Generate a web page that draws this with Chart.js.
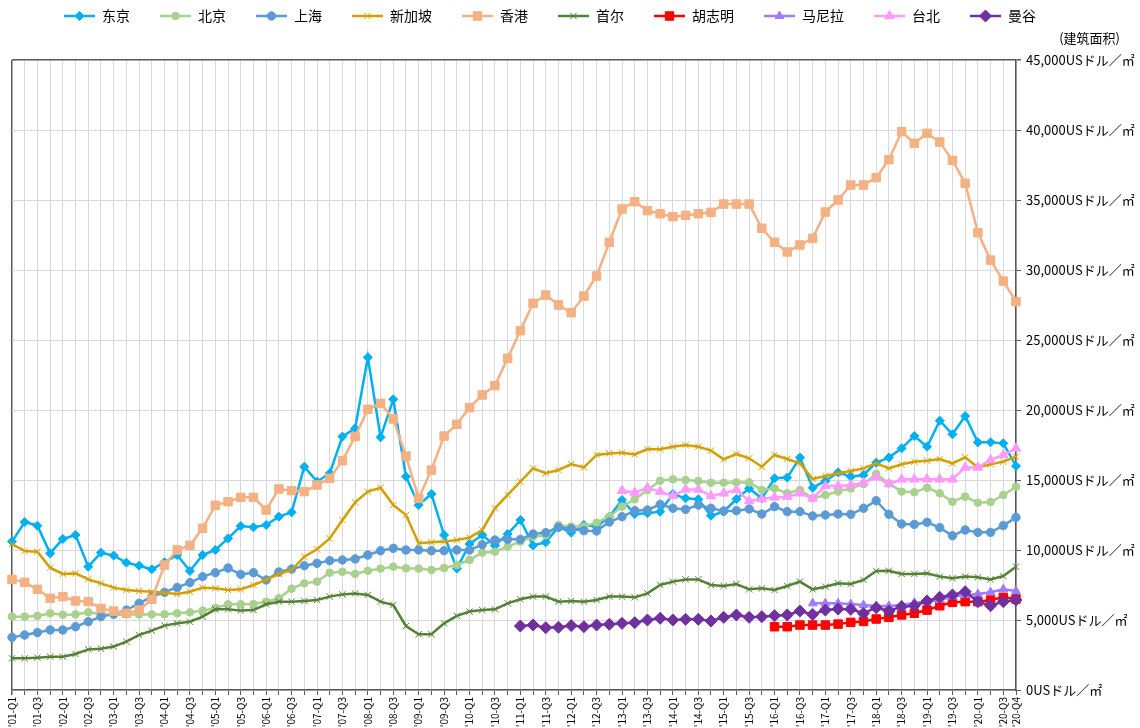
<!DOCTYPE html>
<html>
<head>
<meta charset="utf-8">
<script src="https://cdn.jsdelivr.net/npm/chart.js@4.4.1/dist/chart.umd.min.js"></script>
<style>
html,body{margin:0;padding:0;background:#fff;}
#wrap{width:1140px;height:728px;position:relative;}
</style>
</head>
<body>
<div id="wrap"><canvas id="c" width="1140" height="728"></canvas></div>
<script>
// ---------- categories ----------
const quarters = [];
for (let y = 1; y <= 20; y++) for (let q = 1; q <= 4; q++) quarters.push("'" + String(y).padStart(2, '0') + '-Q' + q);

// ---------- series names ----------
const seriesNames = ['东京', '北京', '上海', '新加坡', '香港', '首尔', '胡志明', '马尼拉', '台北', '曼谷'];
const unitLabel = '(建筑面积)';
const yTickSuffix = 'USドル／㎡';
const yTickValues = [0, 5000, 10000, 15000, 20000, 25000, 30000, 35000, 40000, 45000];

// ---------- values (USD per m2, quarterly '01-Q1 .. '20-Q4) ----------
const tokyo = [10600, 12000, 11740, 9760, 10790, 11070, 8810, 9810, 9600, 9100, 8880, 8620, 9120, 9640, 8500, 9640, 10000, 10830, 11710, 11620, 11790, 12380, 12690, 15950, 14880, 15480, 18100,
  18690, 23760, 18050, 20760, 15240, 13210, 14000, 11070, 8670, 10430, 11070, 10330, 11140, 12140, 10330, 10550, 11670, 11240, 11790, 11670, 12380, 13570, 12570, 12620, 12740, 14000,
  13690, 13620, 12450, 12740, 13640, 14400, 13690, 15120, 15170, 16600, 14450, 14930, 15550, 15240, 15360, 16240, 16600, 17260, 18140, 17380, 19240, 18260, 19570, 17690, 17690, 17620, 16000];
const beijing = [5240, 5240, 5290, 5480, 5380, 5400, 5550, 5430, 5360, 5400, 5400, 5400, 5400, 5480, 5550, 5670, 5860, 6120, 6120, 6140, 6310, 6550, 7240, 7620, 7740, 8380, 8450,
  8290, 8520, 8670, 8810, 8690, 8670, 8570, 8710, 8930, 9290, 9810, 9880, 10240, 10600, 10950, 11050, 11790, 11670, 11670, 11950, 12380, 13100, 13620, 14290, 14950, 15050,
  15000, 14930, 14810, 14810, 14830, 14830, 14290, 14400, 14050, 14290, 13690, 13930, 14170, 14400, 14710, 15430, 14760, 14170, 14120, 14450, 14050, 13450, 13810, 13380, 13430, 13930, 14520];
const shanghai = [3760, 3930, 4100, 4290, 4290, 4520, 4880, 5240, 5430, 5710, 6190, 6670, 6980, 7330, 7670, 8100, 8380, 8710, 8260, 8380, 7860, 8430, 8640, 8880, 9050, 9240, 9290,
  9360, 9640, 9950, 10120, 10000, 10000, 9950, 9950, 10000, 10000, 10380, 10710, 10760, 10760, 11140, 11240, 11620, 11520, 11380, 11360, 12000, 12380, 12810, 12860, 13260, 12980,
  12900, 13210, 12980, 12790, 12810, 12930, 12570, 13100, 12740, 12740, 12430, 12500, 12570, 12550, 12980, 13520, 12550, 11860, 11830, 11980, 11600, 11020, 11430, 11260, 11260, 11740, 12330];
const singapore = [10430, 9930, 9880, 8740, 8290, 8330, 7910, 7620, 7310, 7140, 7070, 7020, 6950, 6860, 7020, 7310, 7260, 7140, 7190, 7500, 7860, 8290, 8570, 9520, 10050, 10830, 12140,
  13400, 14170, 14450, 13210, 12500, 10480, 10550, 10600, 10710, 10880, 11430, 12980, 13930, 14880, 15830, 15480, 15710, 16140, 15900, 16790, 16900, 16950, 16830, 17210, 17190, 17380,
  17500, 17380, 17100, 16480, 16860, 16550, 15950, 16790, 16500, 16190, 15070, 15290, 15480, 15640, 15830, 16190, 15830, 16120, 16310, 16380, 16500, 16190, 16620, 15900, 16120, 16310, 16670];
const hongkong = [7900, 7690, 7190, 6550, 6670, 6360, 6310, 5830, 5640, 5480, 5710, 6480, 8930, 10000, 10330, 11550, 13190, 13450, 13760, 13760, 12860, 14360, 14240, 14170, 14640, 15120, 16380,
  18100, 20050, 20480, 19360, 16710, 13690, 15710, 18140, 18980, 20170, 21070, 21740, 23690,
  25670, 27620, 28210, 27500, 26950, 28140, 29570, 31980, 34360, 34880, 34240, 34020, 33810, 33900, 34020, 34120, 34710, 34710, 34710, 32980, 31980,
  31290, 31790, 32260, 34140, 35000, 36070, 36070, 36600, 37880, 39880, 39050, 39760, 39140, 37830, 36190, 32670, 30710, 29210, 27740];
const seoul = [2260, 2260, 2310, 2380, 2380, 2570, 2900, 2950, 3100, 3450, 3930, 4240, 4600, 4760, 4880, 5240, 5760, 5760, 5670, 5710, 6120, 6310, 6310, 6360, 6430, 6670, 6830,
  6900, 6790, 6310, 6070, 4570, 3980, 3980, 4760, 5290, 5600, 5710, 5760, 6190, 6480, 6670, 6670, 6310, 6360, 6310, 6430, 6670, 6670, 6620, 6900, 7500, 7740,
  7900, 7900, 7500, 7430, 7570, 7190, 7260, 7140, 7430, 7740, 7190, 7380, 7620, 7570, 7860, 8500, 8520, 8290, 8290, 8330, 8100, 7980, 8100, 8050, 7900, 8140, 8810];
const hochiminh = Array(60).fill(null).concat([4520, 4520, 4640, 4640, 4640, 4710, 4830, 4900, 5070, 5190, 5360, 5480, 5710, 6020, 6260, 6310, 6310, 6430, 6620, 6500]);
const manila = Array(63).fill(null).concat([6190, 6190, 6190, 6140, 6070, 6000, 6000, 6070, 6240, 6310, 6430, 6670, 6790, 6860, 6980, 7190, 7070]);
const taipei = Array(48).fill(null).concat([14240, 14100, 14450, 14170, 13860,
  14330, 14330, 13860, 14050, 14290, 13500, 13640, 13760, 13810, 14050, 13690, 14570, 14570, 14640, 14810, 15190, 14710, 15050, 15050, 15050, 15050, 15050, 15900, 15900, 16430, 16790, 17260]);
const bangkok = Array(40).fill(null).concat([4570, 4640, 4450, 4480, 4600, 4520, 4640, 4690, 4760, 4810, 5000, 5120, 5000,
  5050, 5050, 4930, 5190, 5360, 5190, 5240, 5310, 5360, 5640, 5400, 5710, 5790, 5760, 5480, 5880, 5640, 5950, 6020, 6360, 6620, 6790, 7020, 6310, 6020, 6310, 6430]);

const seriesValues = [tokyo, beijing, shanghai, singapore, hongkong, seoul, hochiminh, manila, taipei, bangkok];

// ---------- styles ----------
const styles = [
  {color: '#00B0F0', point: 'rectRot', r: 4.5},
  {color: '#A9D18E', point: 'circle', r: 3.8},
  {color: '#5B9BD5', point: 'circle', r: 4.2},
  {color: '#D4A000', point: 'crossRot', r: 4.5},
  {color: '#F4B183', point: 'rect', r: 6},
  {color: '#548235', point: 'crossRot', r: 4.5},
  {color: '#FF0000', point: 'rect', r: 6},
  {color: '#9E7BFF', point: 'triangle', r: 5},
  {color: '#FF99FF', point: 'triangle', r: 5.5},
  {color: '#7030A0', point: 'rectRot', r: 6}
];

const JP = "'Noto Sans CJK JP', 'Noto Sans CJK SC', sans-serif";
const SC = "'Noto Sans CJK SC', 'Noto Sans CJK JP', sans-serif";
Chart.defaults.font.family = JP;

function makeIcon(st) {
  const c = document.createElement('canvas');
  c.width = 31; c.height = 14;
  const g = c.getContext('2d');
  g.strokeStyle = st.color; g.lineWidth = 2.5;
  g.beginPath(); g.moveTo(0, 7); g.lineTo(31, 7); g.stroke();
  g.fillStyle = st.color; g.strokeStyle = st.color; g.lineWidth = 1;
  try {
    Chart.helpers.drawPoint(g, {pointStyle: st.point, radius: st.r, rotation: 0, borderWidth: 1}, 15.5, 7);
  } catch (e) {
    g.beginPath(); g.arc(15.5, 7, st.r, 0, Math.PI * 2); g.fill();
  }
  return c;
}
const icons = styles.map(makeIcon);

const datasets = seriesNames.map((name, i) => ({
  label: name,
  data: seriesValues[i],
  borderColor: styles[i].color,
  backgroundColor: styles[i].color,
  pointBackgroundColor: styles[i].color,
  pointBorderColor: styles[i].color,
  pointStyle: styles[i].point,
  pointRadius: styles[i].r,
  pointBorderWidth: 1,
  borderWidth: 2.5,
  tension: 0,
  fill: false,
  clip: false,
  order: seriesNames.length - 1 - i
}));

const legendSpacer = {
  id: 'legendSpacer',
  beforeLayout(chart) {
    const lg = chart.legend;
    if (lg && !lg._spacerPatched) {
      const f = lg.fit;
      lg.fit = function () { f.apply(this, arguments); this.height = 81; };
      lg._spacerPatched = true;
    }
  }
};

const unitText = {
  id: 'unitText',
  afterDraw(chart) {
    const ctx = chart.ctx;
    ctx.save();
    ctx.font = "13px " + SC;
    ctx.fillStyle = '#000';
    ctx.textAlign = 'right';
    ctx.textBaseline = 'middle';
    ctx.fillText(unitLabel, chart.chartArea.right + 104, 38);
    ctx.restore();
  }
};

new Chart(document.getElementById('c'), {
  type: 'line',
  data: {labels: quarters, datasets},
  plugins: [legendSpacer, unitText],
  options: {
    responsive: false,
    devicePixelRatio: 1,
    animation: false,
    events: [],
    layout: {padding: {top: -21, left: 12, right: 52, bottom: 0}},
    plugins: {
      tooltip: {enabled: false},
      title: {display: false},
      legend: {
        display: true,
        position: 'top',
        align: 'center',
        labels: {
          usePointStyle: true,
          pointStyleWidth: 31,
          padding: 30,
          color: '#000',
          font: {family: SC, size: 14},
          generateLabels(chart) {
            return chart.data.datasets.map((ds, i) => ({
              text: ds.label,
              pointStyle: icons[i],
              fillStyle: ds.borderColor,
              strokeStyle: ds.borderColor,
              lineWidth: 0,
              hidden: false,
              datasetIndex: i,
              fontColor: '#000'
            }));
          }
        }
      }
    },
    scales: {
      x: {
        type: 'category',
        offset: false,
        ticks: {
          autoSkip: false,
          maxRotation: 90,
          minRotation: 90,
          padding: 2,
          color: '#000',
          font: {family: JP, size: 10},
          callback(v, i) { return (i % 2 === 0 || i === quarters.length - 1) ? quarters[i] : ''; }
        },
        grid: {
          offset: false,
          color: c => c.index === 0 ? '#595959' : '#d9d9d9',
          lineWidth: c => c.index === 0 ? 1.5 : 1,
          tickLength: 5,
          tickColor: '#595959'
        },
        border: {color: '#595959', width: 1.5},
        afterFit: s => { s.height = 38; }
      },
      y: {
        position: 'right',
        min: 0,
        max: 45000,
        afterBuildTicks: s => { s.ticks = yTickValues.map(v => ({value: v})); },
        ticks: {
          color: '#000',
          padding: 5,
          font: {family: JP, size: 13},
          callback: v => Number(v).toLocaleString('en-US') + yTickSuffix
        },
        grid: {
          color: c => (c.tick && c.tick.value === 45000) ? '#595959' : '#d9d9d9',
          lineWidth: c => (c.tick && c.tick.value === 45000) ? 1.5 : 1,
          tickLength: 5,
          tickColor: '#595959'
        },
        border: {color: '#595959', width: 1.5},
        afterFit: s => {
          s.width = 72;
          s._computeLabelArea = () => undefined;
        }
      }
    }
  }
});
</script>
</body>
</html>
